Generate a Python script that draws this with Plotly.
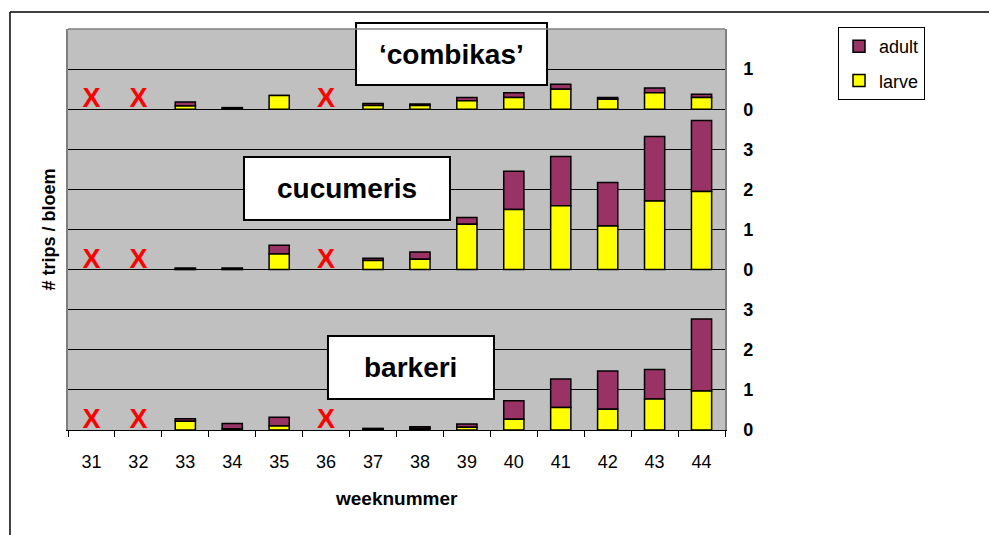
import plotly.graph_objects as go

weeks = ["31", "32", "33", "34", "35", "36", "37", "38", "39", "40", "41", "42", "43", "44"]
missing_weeks = ["31", "32", "36"]

# 'combikas'
combikas_larve = [None, None, 0.08, 0.02, 0.34, None, 0.09, 0.09, 0.21, 0.29, 0.50, 0.25, 0.41, 0.29]
combikas_adult = [None, None, 0.10, 0.02, 0.00, None, 0.05, 0.04, 0.08, 0.12, 0.12, 0.04, 0.12, 0.08]
# cucumeris
cucumeris_larve = [None, None, 0.02, 0.02, 0.39, None, 0.23, 0.26, 1.13, 1.50, 1.59, 1.09, 1.71, 1.95]
cucumeris_adult = [None, None, 0.02, 0.02, 0.22, None, 0.05, 0.18, 0.17, 0.95, 1.23, 1.08, 1.61, 1.77]
# barkeri
barkeri_larve = [None, None, 0.22, 0.03, 0.10, None, 0.02, 0.04, 0.07, 0.27, 0.56, 0.52, 0.77, 0.97]
barkeri_adult = [None, None, 0.06, 0.13, 0.22, None, 0.02, 0.04, 0.08, 0.46, 0.71, 0.95, 0.74, 1.80]

panel_names = ["\u2018combikas\u2019", "cucumeris", "barkeri"]
panel_offsets = [8, 4, 0]
y_tickvals = [0, 1, 2, 3, 4, 5, 6, 7, 8, 9]
y_ticktext = ["0", "1", "2", "3", "0", "1", "2", "3", "0", "1"]

ADULT = "#993366"
LARVE = "#FFFF00"
FONT = "Arial, Liberation Sans, sans-serif"

panels = [
    (combikas_larve, combikas_adult),
    (cucumeris_larve, cucumeris_adult),
    (barkeri_larve, barkeri_adult),
]

fig = go.Figure()

for i, ((larve, adult), off) in enumerate(zip(panels, panel_offsets)):
    larve_base = [off if v is not None else None for v in larve]
    adult_base = [off + v if v is not None else None for v in larve]
    fig.add_trace(go.Bar(
        x=weeks, y=adult, base=adult_base, name="adult",
        legendgroup="adult", showlegend=(i == 0),
        marker=dict(color=ADULT, line=dict(color="black", width=1.5)),
        width=0.43,
    ))
    fig.add_trace(go.Bar(
        x=weeks, y=larve, base=larve_base, name="larve",
        legendgroup="larve", showlegend=(i == 0),
        marker=dict(color=LARVE, line=dict(color="black", width=1.5)),
        width=0.43,
    ))
    # red X markers for weeks without data
    fig.add_trace(go.Scatter(
        x=missing_weeks, y=[off + 0.22] * len(missing_weeks),
        mode="text", text=["X"] * len(missing_weeks),
        textfont=dict(family=FONT, size=27, color="#FF0000", weight="bold"),
        showlegend=False, hoverinfo="skip",
    ))

# panel label boxes (paper coords)
boxes = [
    (0.4384, 0.7291, 0.8603, 1.0150),
    (0.2679, 0.5814, 0.5237, 0.6808),
    (0.3957, 0.6484, 0.0773, 0.2344),
]
shapes = []
annotations = []
for name, (x0, x1, y0, y1) in zip(panel_names, boxes):
    shapes.append(dict(type="rect", xref="paper", yref="paper", x0=x0, x1=x1, y0=y0, y1=y1,
                       fillcolor="white", line=dict(color="black", width=2), layer="above"))
    annotations.append(dict(xref="paper", yref="paper", x=(x0 + x1) / 2, y=(y0 + y1) / 2,
                            text="<b>%s</b>" % name, showarrow=False,
                            font=dict(family=FONT, size=28, color="black"),
                            xanchor="center", yanchor="middle"))

# plot-area top border (gray)
shapes.append(dict(type="line", xref="paper", yref="paper", x0=0, x1=1, y0=1, y1=1,
                   line=dict(color="#808080", width=1.5), layer="above"))
# outer chart border (left and top)
shapes.append(dict(type="line", xref="paper", yref="paper", x0=-0.0883, x1=-0.0883, y0=-0.35, y1=1.0424,
                   line=dict(color="black", width=1.5)))
shapes.append(dict(type="line", xref="paper", yref="paper", x0=-0.0883, x1=1.6, y0=1.0424, y1=1.0424,
                   line=dict(color="black", width=1.5)))

annotations.append(dict(xref="paper", yref="paper", x=-0.0304, y=0.5, textangle=-90,
                        text="<b># trips / bloem</b>", showarrow=False,
                        font=dict(family=FONT, size=18, color="black"),
                        xanchor="center", yanchor="middle"))
annotations.append(dict(xref="paper", yref="paper", x=0.5, y=-0.172,
                        text="<b>weeknummer</b>", showarrow=False,
                        font=dict(family=FONT, size=19, color="black"),
                        xanchor="center", yanchor="middle"))

fig.update_layout(
    width=989, height=527,
    margin=dict(l=60, r=272, t=21, b=105),
    paper_bgcolor="white",
    plot_bgcolor="#C0C0C0",
    barmode="overlay",
    font=dict(family=FONT, color="black"),
    shapes=shapes,
    annotations=annotations,
    legend=dict(
        x=1.172, y=1.005, xanchor="left", yanchor="top",
        bgcolor="white", bordercolor="black", borderwidth=1,
        font=dict(family=FONT, size=18, color="black"),
        traceorder="grouped", tracegroupgap=8,
        itemwidth=30,
    ),
    xaxis=dict(
        type="category", categoryorder="array", categoryarray=weeks,
        range=[-0.5, 13.5],
        tickson="boundaries", ticks="outside", ticklen=6, tickcolor="black",
        showline=True, linecolor="black", linewidth=1,
        showgrid=False, zeroline=False,
        tickfont=dict(family=FONT, size=18, color="black"),
        ticklabelstandoff=15,
    ),
    yaxis=dict(
        side="right", range=[0, 10],
        tickvals=y_tickvals, ticktext=y_ticktext,
        showgrid=True, gridcolor="black", gridwidth=1,
        zeroline=False, showline=True, linecolor="#808080", linewidth=1.5, mirror=True,
        ticks="", tickfont=dict(family=FONT, size=18, color="black", weight="bold"),
        ticklabelstandoff=13,
    ),
)

fig.write_html("out.html")
